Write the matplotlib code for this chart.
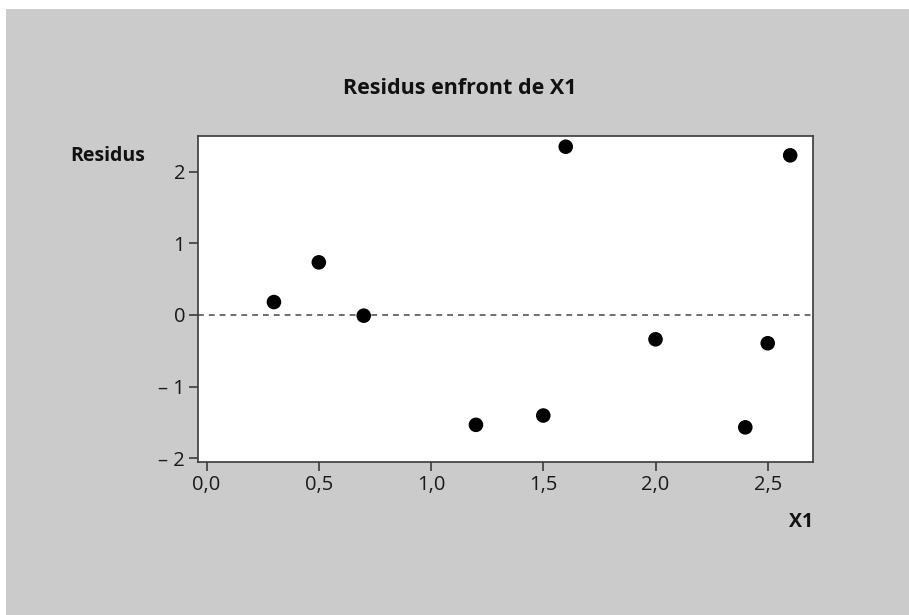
import matplotlib
matplotlib.use("Agg")
import matplotlib.pyplot as plt
from matplotlib.patches import Rectangle

# data
x1 = [0.3, 0.5, 0.7, 1.2, 1.5, 1.6, 2.0, 2.4, 2.5, 2.6]
residus = [0.18, 0.735, -0.01, -1.535, -1.405, 2.35, -0.34, -1.57, -0.395, 2.23]

x_ticks = [0.0, 0.5, 1.0, 1.5, 2.0, 2.5]
x_tick_labels = ["0,0", "0,5", "1,0", "1,5", "2,0", "2,5"]
y_ticks = [-2, -1, 0, 1, 2]
y_tick_labels = ["\u2013 2", "\u2013 1", "0", "1", "2"]

plt.rcParams["font.family"] = ["Open Sans", "DejaVu Sans"]

fig = plt.figure(figsize=(9.09, 6.15), dpi=100)
fig.patch.set_facecolor("white")
# grey panel behind the chart
fig.patches.append(
    Rectangle((6 / 909, 0), 1, 1 - 9 / 615, transform=fig.transFigure,
              facecolor="#cbcbcb", edgecolor="none", zorder=-10)
)

ax = fig.add_axes([198.3 / 909, 153.3 / 615, 615 / 909, 325.7 / 615])
ax.set_facecolor("white")

ax.axhline(0, color="#555555", linewidth=1.2, linestyle=(0, (3.5, 3)), zorder=1)
ax.scatter(x1, residus, s=110, c="black", zorder=3, edgecolors="none")

ax.set_xlim(-0.037, 2.703)
ax.set_ylim(-2.05, 2.50)
ax.set_xticks(x_ticks)
ax.set_xticklabels(x_tick_labels)
ax.set_yticks(y_ticks)
ax.set_yticklabels(y_tick_labels)

for spine in ax.spines.values():
    spine.set_color("#3a3a3a")
    spine.set_linewidth(1.2)
ax.tick_params(axis="both", direction="out", length=6.5, width=1.2,
               color="#3a3a3a", labelsize=14.5, labelcolor="#1a1a1a")
ax.tick_params(axis="x", pad=3)
ax.tick_params(axis="y", pad=3)

fig.text(460 / 909, 1 - 88 / 615, "Residus enfront de X1", ha="center",
         va="center", fontsize=15.5, fontweight="bold", color="#111111")
fig.text(70 / 909, 1 - 156 / 615, "Residus", ha="left", va="center",
         fontsize=14, fontweight="bold", color="#111111")
fig.text(813 / 909, 1 - 522 / 615, "X1", ha="right", va="center",
         fontsize=14, fontweight="bold", color="#111111")

fig.savefig("out.png", dpi=100)
plt.close()
